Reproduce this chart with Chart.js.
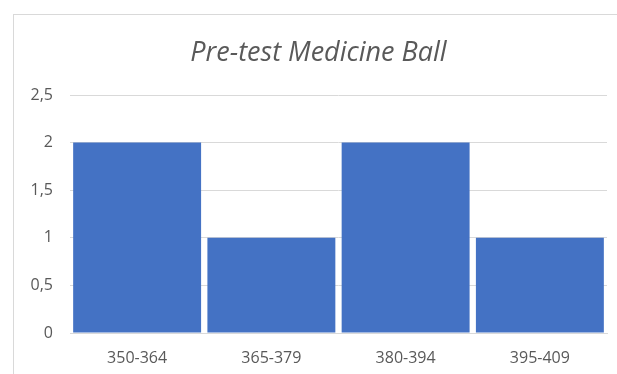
<!DOCTYPE html>
<html>
<head>
<meta charset="utf-8">
<script src="https://cdn.jsdelivr.net/npm/chart.js@4/dist/chart.umd.min.js"></script>
<style>
  html, body { margin: 0; padding: 0; background: #ffffff; overflow: hidden; }
  #wrap { position: relative; width: 617px; height: 374px; }
  #frame { position: absolute; left: 13px; top: 14px; width: 700px; height: 500px;
           border: 1px solid #d9d9d9; box-sizing: border-box; }
  #chart { position: absolute; left: 0; top: 0; }
</style>
</head>
<body>
<div id="wrap">
  <div id="frame"></div>
  <canvas id="chart" width="617" height="374"></canvas>
</div>
<script>
// Score ranges and how many students fell in each
const categories = ['350-364', '365-379', '380-394', '395-409'];
const counts = [2, 1, 2, 1];
const chartTitle = 'Pre-test Medicine Ball';

const textColor = '#595959';
const gridColor = '#d9d9d9';

new Chart(document.getElementById('chart'), {
  type: 'bar',
  data: {
    labels: categories,
    datasets: [{
      data: counts,
      backgroundColor: '#4472c4',
      borderWidth: 0,
      categoryPercentage: 1,
      barPercentage: 0.953
    }]
  },
  options: {
    responsive: false,
    animation: false,
    devicePixelRatio: 1,
    layout: { padding: { left: 30, right: 10, top: 0, bottom: 0 } },
    plugins: {
      legend: { display: false },
      tooltip: { enabled: false },
      title: {
        display: true,
        text: chartTitle,
        color: textColor,
        font: { family: 'Open Sans', size: 27, style: 'italic', weight: 'normal', lineHeight: 1.2 },
        padding: { top: 37, bottom: 25.6 }
      }
    },
    scales: {
      x: {
        grid: { display: false, drawTicks: false },
        border: { display: true, color: gridColor, width: 1 },
        ticks: { color: textColor, font: { family: 'Open Sans', size: 16 }, padding: 16, maxRotation: 0 },
        afterFit: (s) => { s.height = 41; }
      },
      y: {
        min: 0,
        max: 2.5,
        grid: { color: gridColor, drawTicks: false },
        border: { display: false },
        ticks: {
          stepSize: 0.5,
          color: textColor,
          font: { family: 'Open Sans', size: 16 },
          padding: 17,
          callback: (v) => String(v).replace('.', ',')
        },
        afterFit: (s) => { s.width = 40; }
      }
    }
  }
});
</script>
</body>
</html>
